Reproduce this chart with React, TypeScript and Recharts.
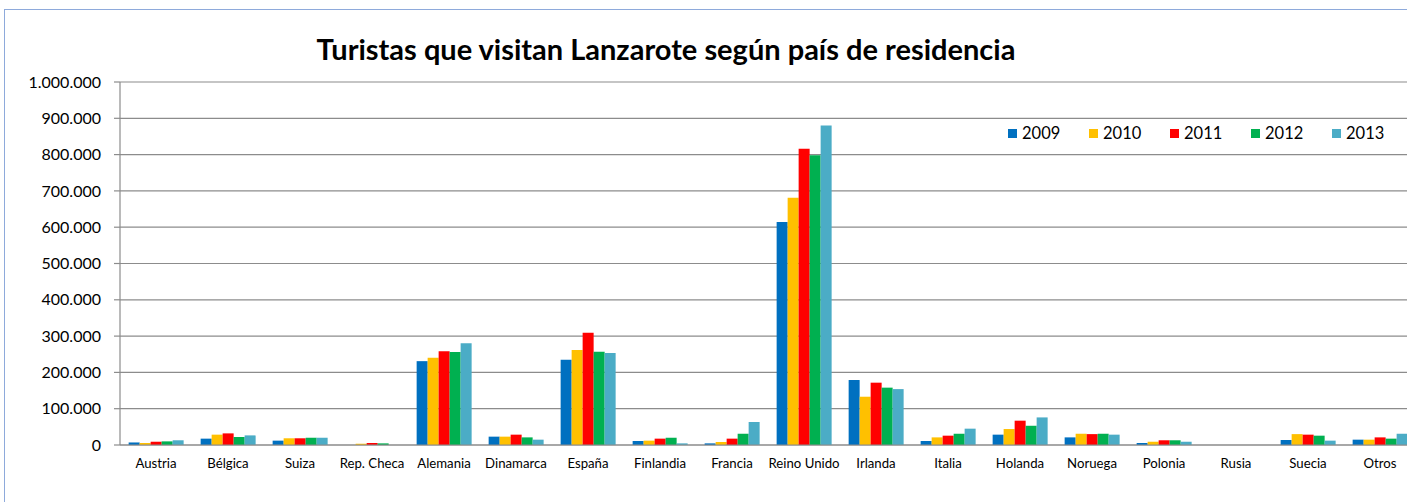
import { BarChart, Bar, XAxis, YAxis, CartesianGrid } from "recharts";

const paises = [
  "Austria", "Bélgica", "Suiza", "Rep. Checa", "Alemania", "Dinamarca", "España", "Finlandia", "Francia",
  "Reino Unido", "Irlanda", "Italia", "Holanda", "Noruega", "Polonia", "Rusia", "Suecia", "Otros",
];

const v2009 = [7000, 17500, 12000, 0, 231000, 23000, 235000, 11000, 4500, 614000, 179000, 11000, 28500, 21000, 5500, 0, 13800, 14700];
const v2010 = [5500, 28500, 18500, 3500, 240500, 23000, 262000, 12000, 8300, 681000, 133000, 21000, 44000, 31000, 9000, 0, 30000, 14700];
const v2011 = [9000, 32000, 18500, 5500, 258000, 28500, 309000, 17500, 17500, 816000, 171700, 25700, 67000, 30000, 13000, 0, 28500, 21000];
const v2012 = [10000, 22000, 20000, 4500, 256000, 21000, 257000, 20000, 31000, 798000, 158000, 31000, 53000, 31000, 13000, 0, 25700, 17500];
const v2013 = [13000, 26500, 20000, 0, 280000, 14700, 253500, 4500, 63400, 880000, 154000, 45000, 76000, 28500, 9000, 0, 12000, 31000];

const yTicks = [0, 100000, 200000, 300000, 400000, 500000, 600000, 700000, 800000, 900000, 1000000];

const series = [
  { key: "y2009", name: "2009", color: "#0070C0" },
  { key: "y2010", name: "2010", color: "#FFC000" },
  { key: "y2011", name: "2011", color: "#FF0000" },
  { key: "y2012", name: "2012", color: "#00B050" },
  { key: "y2013", name: "2013", color: "#4BACC6" },
];

const data = paises.map((p, i) => ({
  pais: p,
  y2009: v2009[i],
  y2010: v2010[i],
  y2011: v2011[i],
  y2012: v2012[i],
  y2013: v2013[i],
}));

const fmt = (v: number) => v.toLocaleString("de-DE");

const font = "Lato, 'Open Sans', sans-serif";

export default function App() {
  return (
    <div
      style={{
        position: "fixed",
        left: 0,
        top: 0,
        width: 1407,
        height: 502,
        overflow: "hidden",
        background: "#fff",
        fontFamily: font,
      }}
    >
      <div
        style={{
          position: "absolute",
          left: 4,
          top: 9,
          width: 1430,
          height: 520,
          border: "1.5px solid #8EAADB",
        }}
      />
      <div
        style={{
          position: "absolute",
          left: 0,
          width: 1332,
          top: 31,
          textAlign: "center",
          fontWeight: 700,
          fontSize: 29,
          color: "#000",
        }}
      >
        Turistas que visitan Lanzarote según país de residencia
      </div>
      <div style={{ position: "absolute", left: 0, top: 0 }}>
        <BarChart
          width={1430}
          height={502}
          data={data}
          margin={{ top: 82, right: 14, bottom: 0, left: 0 }}
          barCategoryGap="12%"
          barGap={0}
        >
          <CartesianGrid vertical={false} stroke="#8C8C8C" strokeWidth={1.2} />
          <XAxis
            dataKey="pais"
            height={57}
            interval={0}
            tickLine={false}
            axisLine={{ stroke: "#8C8C8C", strokeWidth: 1.2 }}
            tick={{ fontSize: 13.2, fill: "#000", fontFamily: font }}
            tickMargin={8}
          />
          <YAxis
            width={120}
            domain={[0, 1000000]}
            ticks={yTicks}
            tickFormatter={fmt}
            axisLine={{ stroke: "#8C8C8C", strokeWidth: 1.2 }}
            tickLine={{ stroke: "#8C8C8C", strokeWidth: 1.2 }}
            tickSize={6}
            tickMargin={13}
            tick={{ fontSize: 16, fill: "#000", fontFamily: font }}
          />
          {series.map((s) => (
            <Bar key={s.key} dataKey={s.key} name={s.name} fill={s.color} isAnimationActive={false} />
          ))}
        </BarChart>
      </div>
      <div
        style={{
          position: "absolute",
          left: 1008,
          top: 123,
          display: "flex",
          fontSize: 16.5,
          color: "#000",
          background: "#fff",
        }}
      >
        {series.map((s) => (
          <div key={s.key} style={{ display: "flex", alignItems: "center", width: 81 }}>
            <span style={{ width: 9, height: 9, background: s.color, marginRight: 5, display: "inline-block" }} />
            <span>{s.name}</span>
          </div>
        ))}
      </div>
    </div>
  );
}
